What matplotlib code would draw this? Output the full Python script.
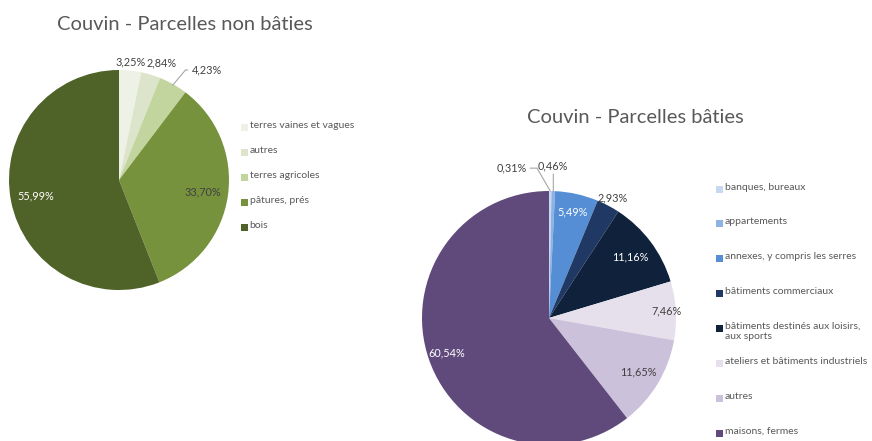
import numpy as np
import matplotlib.pyplot as plt
from matplotlib.patches import Rectangle

plt.rcParams["font.family"] = ["Lato", "DejaVu Sans"]

W, H = 872, 441

# Non built parcels
nb_labels = ["terres vaines et vagues", "autres", "terres agricoles",
             "pâtures, prés", "bois"]
nb_values = [3.25, 2.84, 4.23, 33.70, 55.99]
nb_colors = ["#eef1e5", "#dce5cb", "#c3d59f", "#76923c", "#4f6228"]

# Built parcels
b_labels = ["banques, bureaux", "appartements", "annexes, y compris les serres",
            "bâtiments commerciaux", "bâtiments destinés aux loisirs,\naux sports",
            "ateliers et bâtiments industriels", "autres", "maisons, fermes"]
b_values = [0.31, 0.46, 5.49, 2.93, 11.16, 7.46, 11.65, 60.54]
b_colors = ["#c6d9f1", "#8db3e2", "#558ed5", "#1f3864", "#0f213b",
            "#e5e0ec", "#ccc1da", "#604a7b"]

GREY = "#595959"
DARK = "#404040"
LBL = 7.8


def px(x, y):
    return x / W, 1 - y / H


def pie_axes(fig, cx, cy, r):
    return fig.add_axes([(cx - r) / W, 1 - (cy + r) / H, 2 * r / W, 2 * r / H])


def fix_limits(ax):
    ax.set_xlim(-1, 1)
    ax.set_ylim(-1, 1)
    ax.axis("off")


def mid_angles(values):
    cum = np.cumsum([0] + list(values))
    mids = 90 - 360 * (cum[:-1] + np.array(values) / 2) / cum[-1]
    return np.deg2rad(mids)


def fmt(v):
    return f"{v:.2f}%".replace(".", ",")


def draw_legend(fig, labels, colors, x, y0, step, size=7.5):
    for i, (lab, col) in enumerate(zip(labels, colors)):
        y = y0 + i * step
        fig.patches.append(Rectangle(px(x, y + 3.5), 7 / W, 7 / H,
                                     transform=fig.transFigure,
                                     facecolor=col, edgecolor="none"))
        fig.text(*px(x + 8.5, y - 6.5), lab, fontsize=size, color=GREY,
                 va="top", ha="left", linespacing=1.15)


fig = plt.figure(figsize=(W / 100, H / 100), dpi=100)

# ---- left pie
ax1 = pie_axes(fig, 119, 180, 110)
ax1.pie(nb_values, colors=nb_colors, startangle=90, counterclock=False,
        radius=1, wedgeprops=dict(linewidth=0))
fix_limits(ax1)
dist1 = [1.08, 1.11, None, 0.77, 0.77]
shift1 = [0.0, 0.07, 0.0, 0.0, 0.0]
tcol1 = [DARK, DARK, DARK, DARK, "white"]
for a, v, d, s, c in zip(mid_angles(nb_values), nb_values, dist1, shift1, tcol1):
    if d is None:
        ax1.annotate(fmt(v), xy=(np.cos(a) * 0.99, np.sin(a) * 0.99),
                     xytext=(np.cos(a) + 0.17, np.sin(a) + 0.13),
                     fontsize=LBL, color=DARK, ha="left", va="center",
                     arrowprops=dict(arrowstyle="-", color="#a6a6a6", lw=0.8,
                                     shrinkA=1, shrinkB=0,
                                     connectionstyle="angle,angleA=0,angleB=50,rad=0"))
    else:
        ax1.text(np.cos(a) * d + s, np.sin(a) * d, fmt(v), fontsize=LBL, color=c,
                 ha="center", va="center")
fig.text(*px(185, 24), "Couvin - Parcelles non bâties", fontsize=14.5,
         color=GREY, ha="center", va="center")
draw_legend(fig, nb_labels, nb_colors, 241, 127, 25.2)

# ---- right pie
ax2 = pie_axes(fig, 549, 318, 127)
ax2.pie(b_values, colors=b_colors, startangle=90, counterclock=False,
        radius=1, wedgeprops=dict(linewidth=0))
fix_limits(ax2)
dist2 = [None, None, 0.86, 1.07, 0.80, 0.93, 0.82, 0.85]
tcol2 = [DARK, DARK, "white", DARK, "white", DARK, DARK, "white"]
angles2 = mid_angles(b_values)
for a, v, d, c in zip(angles2, b_values, dist2, tcol2):
    if d is not None:
        ax2.text(np.cos(a) * d, np.sin(a) * d, fmt(v), fontsize=LBL, color=c,
                 ha="center", va="center")
# small slices with leader lines
a0, a1 = angles2[0], angles2[1]
ax2.annotate(fmt(b_values[0]), xy=(np.cos(a0), np.sin(a0)),
             xytext=(-0.29, 1.18), fontsize=LBL, color=DARK, ha="center", va="center",
             arrowprops=dict(arrowstyle="-", color="#a6a6a6", lw=0.8, shrinkA=0,
                             shrinkB=0, relpos=(1, 0.5),
                             connectionstyle="angle,angleA=0,angleB=-60,rad=0"))
ax2.annotate(fmt(b_values[1]), xy=(np.cos(a1), np.sin(a1)),
             xytext=(np.cos(a1), 1.2), fontsize=LBL, color=DARK, ha="center", va="center",
             arrowprops=dict(arrowstyle="-", color="#a6a6a6", lw=0.8, shrinkA=0,
                             shrinkB=0, relpos=(0.5, 0)))
fig.text(*px(635, 117), "Couvin - Parcelles bâties", fontsize=14.5,
         color=GREY, ha="center", va="center")
draw_legend(fig, b_labels, b_colors, 716, 189, 34.9)

fig.savefig("out.png", dpi=100)
